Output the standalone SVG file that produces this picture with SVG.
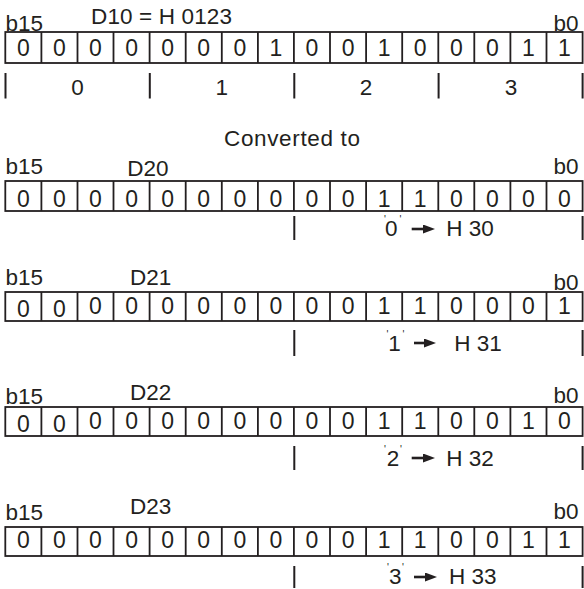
<svg xmlns="http://www.w3.org/2000/svg" width="584" height="589" viewBox="0 0 584 589">
<defs>
<style>
text{font-family:"Liberation Sans",Arial,sans-serif;fill:#231f20}
.lbl{font-size:22.5px}
.d{font-size:23px;text-anchor:middle}
.n{font-size:22.5px;text-anchor:middle}
.end{text-anchor:end}
.q{font-size:10px}
.box{fill:#fff;stroke:#231f20;stroke-width:1.8}
.div{fill:none;stroke:#231f20;stroke-width:1.8}
.tick{fill:none;stroke:#231f20;stroke-width:2}
.arr{fill:none;stroke:#231f20;stroke-width:2.6}
</style>
<marker id="ah" markerUnits="userSpaceOnUse" markerWidth="12" markerHeight="9" refX="1" refY="4.5" orient="auto" viewBox="0 0 12 9">
<path d="M0,0 L12,4.5 L0,9 z" fill="#231f20"/>
</marker>
</defs>
<rect width="584" height="589" fill="#fff"/>

<g id="d10">
<text class="lbl" x="5.4" y="31">b15</text>
<text class="lbl" x="91" y="24" textLength="141" lengthAdjust="spacing">D10 = H 0123</text>
<text class="lbl end" x="578.5" y="31">b0</text>
<rect class="box" x="5.3" y="32" width="577.3" height="31"/>
<path class="div" d="M41.4 32V63M77.5 32V63M113.5 32V63M149.6 32V63M185.7 32V63M221.8 32V63M257.9 32V63M293.9 32V63M330 32V63M366.1 32V63M402.2 32V63M438.3 32V63M474.3 32V63M510.4 32V63M546.5 32V63"/>
<text class="d" x="23.3" y="56">0</text><text class="d" x="59.4" y="56">0</text><text class="d" x="95.5" y="56">0</text><text class="d" x="131.6" y="56">0</text>
<text class="d" x="167.7" y="56">0</text><text class="d" x="203.7" y="56">0</text><text class="d" x="239.8" y="56">0</text><text class="d" x="275.9" y="56">1</text>
<text class="d" x="312" y="56">0</text><text class="d" x="348.1" y="56">0</text><text class="d" x="384.1" y="56">1</text><text class="d" x="420.2" y="56">0</text>
<text class="d" x="456.3" y="56">0</text><text class="d" x="492.4" y="56">0</text><text class="d" x="528.5" y="56">1</text><text class="d" x="564.5" y="56">1</text>
<path class="tick" d="M5.5 73V98.5M149.8 73V98.5M294.3 73V98.5M438.6 73V98.5M582.6 73V98.5"/>
<text class="n" x="77.5" y="95">0</text>
<text class="n" x="221.8" y="95">1</text>
<text class="n" x="366.1" y="95">2</text>
<text class="n" x="511" y="95">3</text>
</g>

<g id="converted">
<text class="lbl" x="224" y="146" textLength="136" lengthAdjust="spacing">Converted to</text>
</g>

<g id="d20">
<text class="lbl" x="5.4" y="174">b15</text>
<text class="lbl" x="127.3" y="176">D20</text>
<text class="lbl end" x="578.5" y="174">b0</text>
<rect class="box" x="5.3" y="181" width="577.3" height="30"/>
<path class="div" d="M41.4 181V211M77.5 181V211M113.5 181V211M149.6 181V211M185.7 181V211M221.8 181V211M257.9 181V211M293.9 181V211M330 181V211M366.1 181V211M402.2 181V211M438.3 181V211M474.3 181V211M510.4 181V211M546.5 181V211"/>
<text class="d" x="23.3" y="207">0</text><text class="d" x="59.4" y="207">0</text><text class="d" x="95.5" y="207">0</text><text class="d" x="131.6" y="207">0</text>
<text class="d" x="167.7" y="207">0</text><text class="d" x="203.7" y="207">0</text><text class="d" x="239.8" y="207">0</text><text class="d" x="275.9" y="207">0</text>
<text class="d" x="312" y="207">0</text><text class="d" x="348.1" y="207">0</text><text class="d" x="384.1" y="207">1</text><text class="d" x="420.2" y="207">1</text>
<text class="d" x="456.3" y="207">0</text><text class="d" x="492.4" y="207">0</text><text class="d" x="528.5" y="207">0</text><text class="d" x="564.5" y="207">0</text>
<path class="tick" d="M294.3 216V240M582.6 216V240"/>
<text class="lbl" y="236"><tspan class="q" x="384" dy="-13">'</tspan><tspan x="391.3" dy="13" text-anchor="middle">0</tspan><tspan class="q" x="399.5" dy="-13">'</tspan></text>
<text class="lbl" x="446.3" y="236">H 30</text>
</g>

<g id="d21">
<text class="lbl" x="5.4" y="285">b15</text>
<text class="lbl" x="130" y="285">D21</text>
<text class="lbl end" x="578.5" y="290">b0</text>
<rect class="box" x="5.3" y="292" width="577.3" height="29"/>
<path class="div" d="M41.4 292V321M77.5 292V321M113.5 292V321M149.6 292V321M185.7 292V321M221.8 292V321M257.9 292V321M293.9 292V321M330 292V321M366.1 292V321M402.2 292V321M438.3 292V321M474.3 292V321M510.4 292V321M546.5 292V321"/>
<text class="d" x="23.3" y="317">0</text><text class="d" x="59.4" y="317">0</text><text class="d" x="95.5" y="314">0</text><text class="d" x="131.6" y="314">0</text>
<text class="d" x="167.7" y="314">0</text><text class="d" x="203.7" y="314">0</text><text class="d" x="239.8" y="314">0</text><text class="d" x="275.9" y="314">0</text>
<text class="d" x="312" y="314">0</text><text class="d" x="348.1" y="314">0</text><text class="d" x="384.1" y="314">1</text><text class="d" x="420.2" y="314">1</text>
<text class="d" x="456.3" y="314">0</text><text class="d" x="492.4" y="314">0</text><text class="d" x="528.5" y="314">0</text><text class="d" x="564.5" y="314">1</text>
<path class="tick" d="M294.3 330V356M582.6 330V356"/>
<text class="lbl" y="351"><tspan class="q" x="386.5" dy="-13">'</tspan><tspan x="394.5" dy="13" text-anchor="middle">1</tspan><tspan class="q" x="402.5" dy="-13">'</tspan></text>
<text class="lbl" x="454.3" y="351">H 31</text>
</g>

<g id="d22">
<text class="lbl" x="5.4" y="404">b15</text>
<text class="lbl" x="130" y="400">D22</text>
<text class="lbl end" x="578.5" y="403">b0</text>
<rect class="box" x="5.3" y="407" width="577.3" height="29"/>
<path class="div" d="M41.4 407V436M77.5 407V436M113.5 407V436M149.6 407V436M185.7 407V436M221.8 407V436M257.9 407V436M293.9 407V436M330 407V436M366.1 407V436M402.2 407V436M438.3 407V436M474.3 407V436M510.4 407V436M546.5 407V436"/>
<text class="d" x="23.3" y="431.5">0</text><text class="d" x="59.4" y="431.5">0</text><text class="d" x="95.5" y="428.5">0</text><text class="d" x="131.6" y="428.5">0</text>
<text class="d" x="167.7" y="428.5">0</text><text class="d" x="203.7" y="428.5">0</text><text class="d" x="239.8" y="428.5">0</text><text class="d" x="275.9" y="428.5">0</text>
<text class="d" x="312" y="428.5">0</text><text class="d" x="348.1" y="428.5">0</text><text class="d" x="384.1" y="428.5">1</text><text class="d" x="420.2" y="428.5">1</text>
<text class="d" x="456.3" y="428.5">0</text><text class="d" x="492.4" y="428.5">0</text><text class="d" x="528.5" y="428.5">1</text><text class="d" x="564.5" y="428.5">0</text>
<path class="tick" d="M294.3 446V470M582.6 446V470"/>
<text class="lbl" y="466"><tspan class="q" x="384" dy="-13">'</tspan><tspan x="393" dy="13" text-anchor="middle">2</tspan><tspan class="q" x="400" dy="-13">'</tspan></text>
<text class="lbl" x="446.3" y="466">H 32</text>
</g>

<g id="d23">
<text class="lbl" x="5.4" y="520">b15</text>
<text class="lbl" x="130" y="514">D23</text>
<text class="lbl end" x="578.5" y="519">b0</text>
<rect class="box" x="5.3" y="527" width="577.3" height="29"/>
<path class="div" d="M41.4 527V556M77.5 527V556M113.5 527V556M149.6 527V556M185.7 527V556M221.8 527V556M257.9 527V556M293.9 527V556M330 527V556M366.1 527V556M402.2 527V556M438.3 527V556M474.3 527V556M510.4 527V556M546.5 527V556"/>
<text class="d" x="23.3" y="548">0</text><text class="d" x="59.4" y="548">0</text><text class="d" x="95.5" y="548">0</text><text class="d" x="131.6" y="548">0</text>
<text class="d" x="167.7" y="548">0</text><text class="d" x="203.7" y="548">0</text><text class="d" x="239.8" y="548">0</text><text class="d" x="275.9" y="548">0</text>
<text class="d" x="312" y="548">0</text><text class="d" x="348.1" y="548">0</text><text class="d" x="384.1" y="548">1</text><text class="d" x="420.2" y="548">1</text>
<text class="d" x="456.3" y="548">0</text><text class="d" x="492.4" y="548">0</text><text class="d" x="528.5" y="548">1</text><text class="d" x="564.5" y="548">1</text>
<path class="tick" d="M294.3 566V588M582.6 566V588"/>
<text class="lbl" y="584"><tspan class="q" x="387" dy="-13">'</tspan><tspan x="395.3" dy="13" text-anchor="middle">3</tspan><tspan class="q" x="402" dy="-13">'</tspan></text>
<text class="lbl" x="449" y="584">H 33</text>
</g>

<g id="connectors">
<path class="arr" d="M411.7 229H424" marker-end="url(#ah)"/>
<path class="arr" d="M414 343H425" marker-end="url(#ah)"/>
<path class="arr" d="M411.7 458H424" marker-end="url(#ah)"/>
<path class="arr" d="M414 577H426" marker-end="url(#ah)"/>
</g>
</svg>
